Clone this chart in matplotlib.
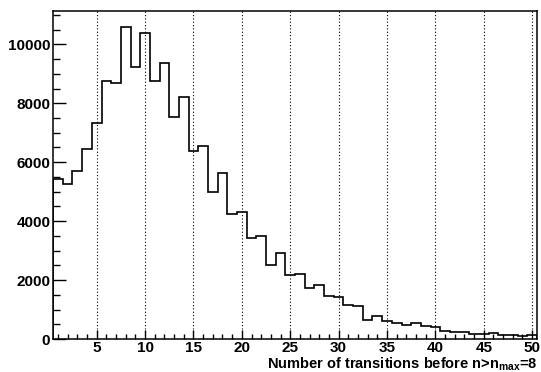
import numpy as np
import matplotlib
matplotlib.use('Agg')
import matplotlib.pyplot as plt
from matplotlib.ticker import MultipleLocator

# bin edges 0.5 .. 50.5, one bin per integer
bin_centers = list(range(1, 51))
counts = [5420, 5270, 5705, 6460, 7345, 8760, 8680, 10600, 9230, 10380,
          8750, 9360, 7530, 8210, 6375, 6545, 4990, 5625, 4235, 4305,
          3420, 3510, 2500, 2910, 2185, 2220, 1730, 1845, 1460, 1425,
          1145, 1120, 655, 770, 610, 545, 465, 545, 430, 405,
          260, 250, 225, 180, 170, 190, 135, 145, 115, 125]
x_ticks = [5, 10, 15, 20, 25, 30, 35, 40, 45, 50]
y_ticks = [0, 2000, 4000, 6000, 8000, 10000]

plt.rcParams['font.family'] = 'Liberation Sans'
plt.rcParams['font.weight'] = 'bold'
plt.rcParams['mathtext.fontset'] = 'custom'
plt.rcParams['mathtext.rm'] = 'Liberation Sans:bold'
plt.rcParams['mathtext.bf'] = 'Liberation Sans:bold'
plt.rcParams['mathtext.it'] = 'Liberation Sans:bold'

fig = plt.figure(figsize=(5.41, 3.72), dpi=100)
ax = fig.add_axes([0.0982, 0.0887, 0.8944, 0.8817])

edges = np.array(bin_centers, dtype=float) - 0.5
edges = np.append(edges, bin_centers[-1] + 0.5)
ax.stairs(counts, edges, color='black', linewidth=1.2)

ax.set_xlim(0.5, 50.5)
ax.set_ylim(0, max(counts) * 1.05)

ax.set_xticks(x_ticks)
ax.set_yticks(y_ticks)
ax.xaxis.set_minor_locator(MultipleLocator(1))
ax.yaxis.set_minor_locator(MultipleLocator(500))
ax.tick_params(axis='x', which='major', direction='in', length=6.5, width=1.0,
               labelsize=11, pad=1.5)
ax.tick_params(axis='x', which='minor', direction='in', length=3.5, width=1.0)
ax.tick_params(axis='y', which='major', direction='in', length=9.5, width=1.0,
               labelsize=11, pad=2)
ax.tick_params(axis='y', which='minor', direction='in', length=5, width=1.0)

ax.grid(axis='x', which='major', color='black', linestyle=(0, (1, 2)), linewidth=0.8)

for s in ax.spines.values():
    s.set_linewidth(1.1)

fig.text(537 / 541, 3.8 / 372, r'Number of transitions before n>n$_{\mathbf{max}}$=8',
         ha='right', va='baseline', fontsize=10.5, fontweight='bold')

fig.savefig('out.png', dpi=100)
